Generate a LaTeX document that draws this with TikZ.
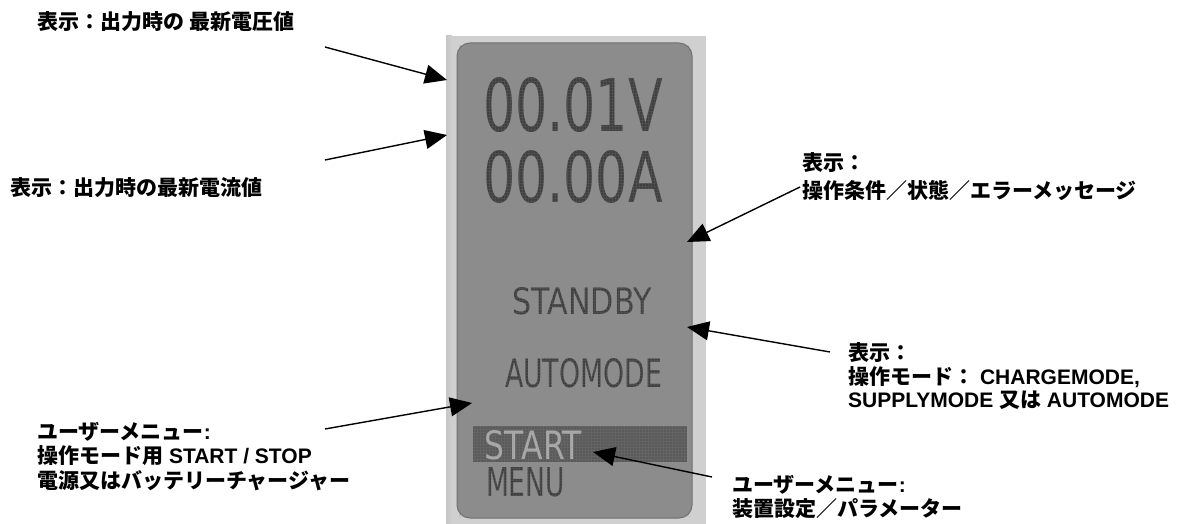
\documentclass[tikz,border=0pt]{standalone}
\usepackage{fontspec}
\usepackage{graphicx}
\setmainfont{Liberation Sans}
\newfontfamily\jpf{Noto Sans CJK JP}
\newfontfamily\lcdf{DejaVu Sans}
\usetikzlibrary{arrows.meta}
\definecolor{frameC}{HTML}{D0D0D0}
\definecolor{lcdC}{HTML}{8C8C8C}
\definecolor{lcdEdge}{HTML}{707070}
\definecolor{lcdText}{HTML}{3E3E3E}
\definecolor{barC}{HTML}{5A5A5A}
\definecolor{barText}{HTML}{ABABAB}
\newcommand{\jp}[1]{{\jpf\fontsize{21}{24}\selectfont\bfseries #1}}
\newcommand{\lcdtxt}[3]{\resizebox{#1pt}{#2pt}{\lcdf #3}}
\begin{document}
\begin{tikzpicture}[x=1pt,y=-1pt,
  lbl/.style={anchor=base west,inner sep=0pt,font=\fontsize{21}{24}\selectfont\bfseries},
  lcd/.style={inner sep=0pt,text=lcdText},
  callout/.style={draw=black,line width=1.4pt,-{Triangle[length=22pt,width=19pt]}}]
\useasboundingbox (0,0) rectangle (1178,524);
% photo of the display
\fill[frameC] (446,36) rectangle (706,524);
\fill[left color=gray!45,right color=frameC] (446,36) rectangle (452,524);
\filldraw[fill=lcdC,draw=lcdEdge,line width=1pt,rounded corners=13pt] (457,43) rectangle (692,518);
\node[lcd] (volt) at (573,105) {\lcdtxt{180}{54}{00.01V}};
\node[lcd] (amp) at (573,177) {\lcdtxt{180}{52}{00.00A}};
\node[lcd] (stby) at (582,301.5) {\lcdtxt{139}{27}{STANDBY}};
\node[lcd] (mode) at (583.5,373.5) {\lcdtxt{157}{29}{AUTOMODE}};
\fill[barC] (473,426) rectangle (687,462);
\node[lcd,text=barText] (start) at (533.5,445.5) {\lcdtxt{97}{29}{START}};
\node[lcd] (menu) at (525.5,482.5) {\lcdtxt{79}{29}{MENU}};
% dot-matrix texture
\begin{scope}
  \clip (459,45) rectangle (690,516);
  \draw[lcdC,line width=0.5pt,opacity=0.2,step=3pt] (459,45) grid (690,516);
\end{scope}
% labels
\node[lbl] (l1) at (37,30) {\jp{表示：出力時の 最新電圧値}};
\node[lbl] (l2) at (10,195) {\jp{表示：出力時の最新電流値}};
\node[lbl] (l3a) at (802,171) {\jp{表示：}};
\node[lbl] (l3b) at (802,198) {\jp{操作条件／状態／エラーメッセージ}};
\node[lbl] (l4a) at (848,360) {\jp{表示：}};
\node[lbl] (l4b) at (848,384) {\jp{操作モード：} CHARGEMODE,};
\node[lbl] (l4c) at (848,407) {SUPPLYMODE \jp{又は} AUTOMODE};
\node[lbl] (l5a) at (37,439) {\jp{ユーザーメニュー}:};
\node[lbl] (l5b) at (37,463) {\jp{操作モード用} START / STOP};
\node[lbl] (l5c) at (37,488) {\jp{電源又はバッテリーチャージャー}};
\node[lbl] (l6a) at (732,492) {\jp{ユーザーメニュー}:};
\node[lbl] (l6b) at (732,516) {\jp{装置設定／パラメーター}};
% arrow ends
\coordinate (t1) at (325,47);   \coordinate (h1) at (447,80);
\coordinate (t2) at (325,160);  \coordinate (h2) at (447,135);
\coordinate (t3) at (800,187);  \coordinate (h3) at (687,242);
\coordinate (t4) at (830,352);  \coordinate (h4) at (687,327);
\coordinate (t5) at (325,429);  \coordinate (h5) at (472,403);
\coordinate (t6) at (712,477);  \coordinate (h6) at (593,452);
\foreach \i in {1,...,6} {\draw[callout] (t\i) -- (h\i);}
\end{tikzpicture}
\end{document}
